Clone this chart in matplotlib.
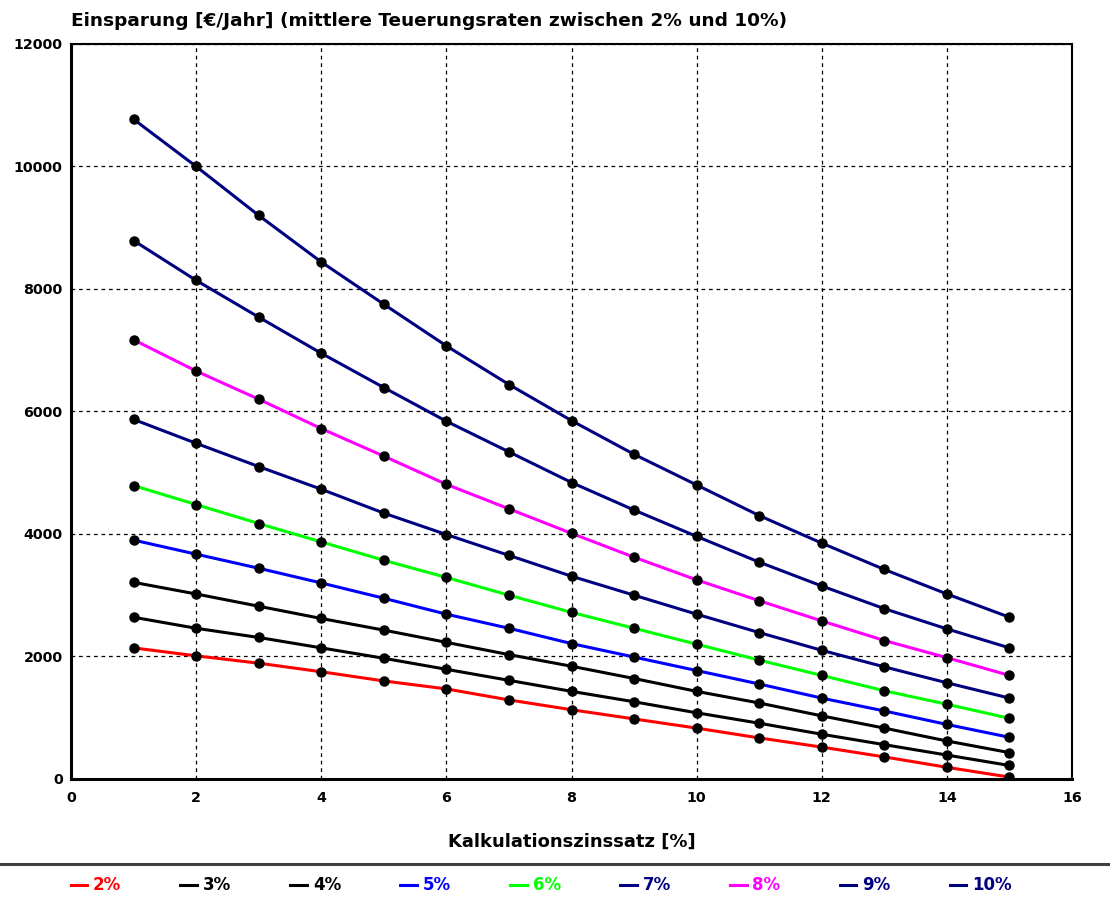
import matplotlib.pyplot as plt
from matplotlib.lines import Line2D

plt.rcParams['font.family'] = ['DejaVu Sans']
plt.rcParams['font.weight'] = 'bold'

# Kalkulationszinssatz [%]
zins = [1, 2, 3, 4, 5, 6, 7, 8, 9, 10, 11, 12, 13, 14, 15]

# Einsparung per Teuerungsrate
s2 = [2140, 2010, 1890, 1750, 1600, 1470, 1290, 1130, 980, 830, 670, 520, 360, 190, 30]
s3 = [2640, 2460, 2310, 2140, 1970, 1790, 1610, 1430, 1260, 1080, 910, 730, 560, 390, 220]
s4 = [3210, 3020, 2820, 2620, 2430, 2230, 2030, 1840, 1640, 1430, 1240, 1030, 830, 620, 430]
s5 = [3900, 3670, 3440, 3200, 2950, 2690, 2460, 2210, 1990, 1770, 1550, 1320, 1110, 890, 680]
s6 = [4790, 4480, 4170, 3870, 3570, 3290, 3000, 2720, 2460, 2200, 1940, 1690, 1440, 1220, 990]
s7 = [5870, 5480, 5100, 4730, 4340, 3990, 3650, 3310, 3000, 2690, 2390, 2100, 1830, 1570, 1320]
s8 = [7170, 6660, 6200, 5720, 5270, 4810, 4410, 4010, 3620, 3250, 2910, 2580, 2260, 1980, 1690]
s9 = [8790, 8140, 7540, 6950, 6390, 5840, 5340, 4840, 4390, 3960, 3540, 3150, 2780, 2450, 2140]
s10 = [10770, 10000, 9200, 8440, 7750, 7070, 6440, 5850, 5300, 4800, 4300, 3850, 3420, 3020, 2640]

series = [s2, s3, s4, s5, s6, s7, s8, s9, s10]
labels = ['2%', '3%', '4%', '5%', '6%', '7%', '8%', '9%', '10%']
colors = ['#ff0000', '#000000', '#000000', '#0000ff', '#00ff00',
          '#000080', '#ff00ff', '#000080', '#000080']

fig = plt.figure(figsize=(11.1, 8.97), dpi=100)
ax = fig.add_axes([0.064, 0.1316, 0.9018, 0.8194])

for vals, lab, col in zip(series, labels, colors):
    ax.plot(zins, vals, color=col, lw=2.2, label=lab, zorder=3)
    ax.plot(zins, vals, 'o', color='black', ms=6.5, zorder=4)

ax.set_xlim(0, 16)
ax.set_ylim(0, 12000)
ax.set_xticks(range(0, 17, 2))
ax.set_yticks(range(0, 12001, 2000))
ax.grid(True, color='black', ls=(0, (3, 3)), lw=0.9)
ax.tick_params(length=0, labelsize=10.3, pad=9)
ax.tick_params(axis='y', pad=6)
for lab in ax.get_xticklabels() + ax.get_yticklabels():
    lab.set_fontweight('bold')
for side in ['left', 'bottom']:
    ax.spines[side].set_linewidth(2.2)
for side in ['top', 'right']:
    ax.spines[side].set_linewidth(1.5)

ax.set_xlabel('Kalkulationszinssatz [%]', fontsize=13, fontweight='bold', labelpad=20)
fig.text(0.064, 0.977, 'Einsparung [€/Jahr] (mittlere Teuerungsraten zwischen 2% und 10%)',
         fontsize=13.3, fontweight='bold', ha='left', va='center')

# separator above the legend
fig.add_artist(Line2D([0, 1], [0.0368, 0.0368], color='#404040', lw=2.2))

leg = fig.legend(loc='center left', bbox_to_anchor=(0.05, 0.013, 0.875, 0.0),
                 mode='expand', ncol=9, frameon=False, handlelength=1.0,
                 handletextpad=0.35, fontsize=12, labelcolor='linecolor')
for t in leg.get_texts():
    t.set_fontweight('bold')

fig.savefig('out.png', dpi=100)
